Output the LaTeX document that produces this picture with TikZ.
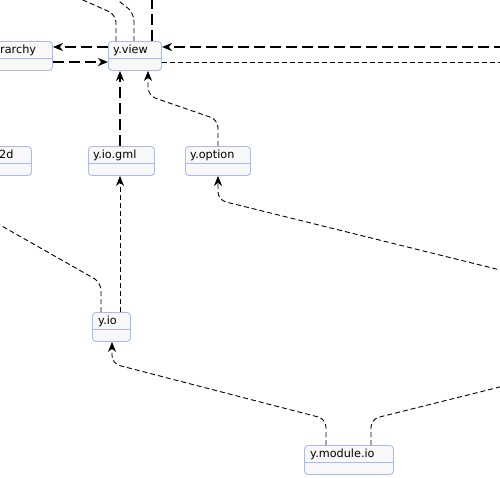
\documentclass[tikz,border=0pt]{standalone}
\usepackage{fontspec}
\setmainfont{DejaVu Sans}
\usetikzlibrary{arrows.meta}
\definecolor{bord}{HTML}{A8B8FF}
\definecolor{boxfill}{HTML}{F8F8F8}
\tikzset{
  umlbox/.style={draw=bord, fill=boxfill, rounded corners=3.5pt, line width=0.9pt,
    anchor=north west, inner sep=0pt, minimum height=29pt},
  lbl/.style={anchor=base west, inner sep=0pt, font=\fontsize{11.25}{13}\selectfont},
  thickdep/.style={line width=1.8pt, dash pattern=on 11pt off 5pt},
  thindep/.style={line width=0.9pt, dash pattern=on 5pt off 3pt},
  tip/.style={-{Stealth[length=10pt,width=8pt,inset=3pt]}}
}
\newcommand\umlclass[6]{%
  \node[umlbox, minimum width=#4pt] (#1) at (#2,#3) {};
  \draw[bord, line width=0.9pt] ([yshift=-17.5pt]#1.north west) -- ([yshift=-17.5pt]#1.north east);
  \node[lbl] (#1-t) at ([xshift=#6pt,yshift=-12.5pt]#1.north west) {#5};
}
\begin{document}
\begin{tikzpicture}[x=1pt,y=-1pt]
\clip (0,0) rectangle (500,477);
\fill[white] (0,0) rectangle (500,477);

% boxes
\umlclass{hier}{-5}{41}{57}{rarchy}{5}
\umlclass{view}{108}{41}{53}{y.view}{5}
\umlclass{ltd}{-5}{146}{36}{2d}{4}
\umlclass{gml}{88}{146}{66}{y.io.gml}{5}
\umlclass{opt}{185}{146}{65}{y.option}{5}
\umlclass{io}{92}{312}{38}{y.io}{6}
\umlclass{mod}{304}{445}{89}{y.module.io}{6}

% free ends
\coordinate (up1) at (50,-14.6);
\coordinate (up2) at (100,-14);
\coordinate (up3) at (152,-5);
\coordinate (rin) at (505,47);
\coordinate (rout) at (505,62);
\coordinate (lft) at (-20,213.6);
\coordinate (ropt) at (505,271.2);
\coordinate (rmod) at (505,385.7);

% edges into / out of y.view
\draw[thindep, rounded corners=8pt] ([xshift=8pt]view.north west) -- (116,14.7) -- (up1);
\draw[thindep, rounded corners=8pt] ([xshift=26pt]view.north west) -- (134,13) -- (up2);
\draw[thickdep] ([xshift=44pt]view.north west) -- (up3);
\draw[thickdep, tip] (rin) -- ([yshift=-6pt]view.north east);
\draw[thickdep, tip] ([yshift=-6pt]view.north west) -- ([yshift=-6pt]hier.north east);
\draw[thickdep, tip] ([yshift=-21pt]hier.north east) -- ([yshift=-21pt]view.north west);
\draw[thindep] ([yshift=-21pt]view.north east) -- (rout);
\draw[thickdep, tip] ([xshift=32pt]gml.north west) -- ([xshift=12pt]view.south west);
\draw[thindep, tip, rounded corners=8pt] ([xshift=33pt]opt.north west) -- (218,119.8) -- (148,95.6) -- ([xshift=40pt]view.south west);

% edges around y.io
\draw[thindep, tip] ([xshift=28pt]io.north west) -- ([xshift=32pt]gml.south west);
\draw[thindep, rounded corners=8pt] ([xshift=9pt]io.north west) -- (101,282.4) -- (lft);
\draw[thindep, tip, rounded corners=8pt] (ropt) -- (218,200) -- ([xshift=33pt]opt.south west);

% edges from y.module.io
\draw[thindep, tip, rounded corners=8pt] ([xshift=22pt]mod.north west) -- (326,419) -- (112,363.6) -- ([xshift=20pt]io.south west);
\draw[thindep, rounded corners=8pt] ([xshift=67pt]mod.north west) -- (371,419.2) -- (rmod);
\end{tikzpicture}
\end{document}
